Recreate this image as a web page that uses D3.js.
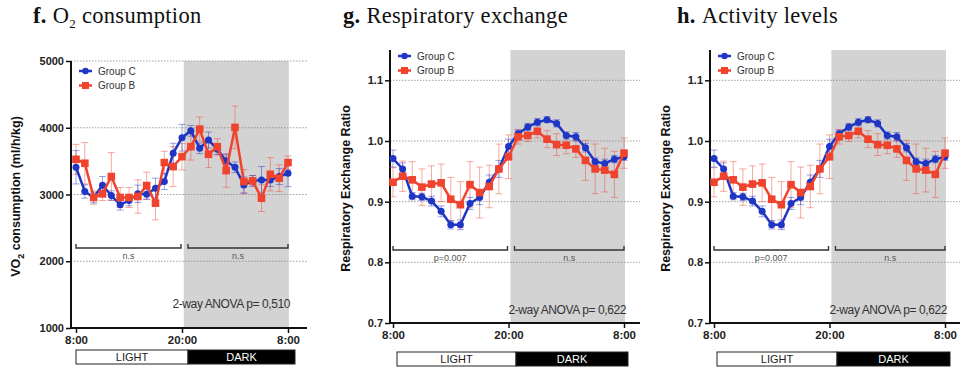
<!DOCTYPE html>
<html>
<head>
<meta charset="utf-8">
<script src="https://cdn.jsdelivr.net/npm/d3@7"></script>
<style>
  body { margin: 0; background: #fff; }
  text { font-family: "Liberation Sans", Arial, sans-serif; }
</style>
</head>
<body>
<svg id="chart" width="960" height="367"></svg>
<script>
// hours after 8:00
var hours = d3.range(0, 25);
var xTickHours = [0, 12, 24];
var xTickLabels = ['8:00', '20:00', '8:00'];

// f. O2 consumption
var o2GroupC = [3408, 3045, 2955, 3140, 2985, 2846, 2910, 3010, 3005, 3095, 3194, 3617, 3851, 3955, 3692, 3816, 3677, 3502, 3408, 3144, 3204, 3219, 3219, 3269, 3318];
var o2GroupCErr = [250, 100, 80, 130, 70, 80, 80, 130, 80, 150, 120, 150, 200, 80, 80, 120, 80, 100, 80, 120, 80, 200, 100, 120, 200];
var o2GroupB = [3527, 3468, 2955, 3010, 3269, 2955, 2955, 2970, 3134, 2870, 3478, 3418, 3567, 3716, 3980, 3602, 3716, 3358, 4005, 3194, 3204, 2945, 3303, 3244, 3478];
var o2GroupBErr = [224, 310, 100, 100, 358, 150, 150, 250, 200, 250, 170, 300, 200, 200, 180, 200, 120, 250, 320, 180, 80, 200, 250, 200, 100];
var o2Ticks = [1000, 2000, 3000, 4000, 5000];

// g. / h. respiratory exchange ratio
var rerGroupC = [0.971, 0.954, 0.909, 0.908, 0.901, 0.884, 0.862, 0.862, 0.897, 0.907, 0.932, 0.954, 0.991, 1.012, 1.023, 1.031, 1.035, 1.029, 1.009, 1.007, 0.989, 0.966, 0.963, 0.970, 0.974];
var rerGroupCErr = [0.014, 0.010, 0.006, 0.006, 0.008, 0.009, 0.007, 0.008, 0.010, 0.012, 0.012, 0.014, 0.012, 0.006, 0.006, 0.006, 0.005, 0.006, 0.006, 0.007, 0.007, 0.006, 0.007, 0.006, 0.006];
var rerGroupB = [0.932, 0.942, 0.936, 0.924, 0.929, 0.931, 0.904, 0.895, 0.928, 0.915, 0.925, 0.954, 0.974, 1.007, 1.009, 1.016, 1.003, 0.994, 0.993, 0.987, 0.968, 0.954, 0.952, 0.945, 0.980];
var rerGroupBErr = [0.024, 0.025, 0.030, 0.030, 0.030, 0.031, 0.036, 0.038, 0.038, 0.042, 0.035, 0.041, 0.036, 0.012, 0.010, 0.011, 0.014, 0.018, 0.014, 0.014, 0.033, 0.041, 0.036, 0.038, 0.025];
var rerTicks = [0.7, 0.8, 0.9, 1.0, 1.1];

var blue = '#1f35c4';
var red = '#f0432e';

var svg = d3.select('#chart');

var panels = [
  {letter: 'f.', title: 'O', sub: '2', titleRest: ' consumption', titleX: 33,
   axisX: 71, xRange: [76, 288], right: 307, yDomain: [1000, 5000], yRange: [328, 61], top: 61,
   ticks: o2Ticks, fmt: d3.format('d'), c: o2GroupC, cErr: o2GroupCErr, b: o2GroupB, bErr: o2GroupBErr,
   yLabel: 'VO2', labelX: 20, legendY: 71, lightP: 'n.s', darkP: 'n.s', bracketY: 248,
   anova: '2-way ANOVA p= 0,510', anovaY: 308, barX: [76, 188, 295], barY: 350},
  {letter: 'g.', title: 'Respiratory exchange', titleX: 343,
   axisX: 390, xRange: [393, 624], right: 640, yDomain: [0.7, 1.15], yRange: [323, 50], top: 50,
   ticks: rerTicks, fmt: d3.format('.1f'), c: rerGroupC, cErr: rerGroupCErr, b: rerGroupB, bErr: rerGroupBErr,
   yLabel: 'Respiratory Exchange Ratio', labelX: 350, legendY: 56, lightP: 'p=0.007', darkP: 'n.s', bracketY: 250,
   anova: '2-way ANOVA p= 0,622', anovaY: 314, barX: [397, 516, 628], barY: 352},
  {letter: 'h.', title: 'Activity levels', titleX: 677,
   axisX: 710, xRange: [714, 945], right: 960, yDomain: [0.7, 1.15], yRange: [323, 50], top: 50,
   ticks: rerTicks, fmt: d3.format('.1f'), c: rerGroupC, cErr: rerGroupCErr, b: rerGroupB, bErr: rerGroupBErr,
   yLabel: 'Respiratory Exchange Ratio', labelX: 670, legendY: 56, lightP: 'p=0.007', darkP: 'n.s', bracketY: 250,
   anova: '2-way ANOVA p= 0,622', anovaY: 314, barX: [717, 837, 950], barY: 352}
];

panels.forEach(function(p) {
  var x = d3.scaleLinear().domain([0, 24]).range(p.xRange);
  var y = d3.scaleLinear().domain(p.yDomain).range(p.yRange);
  var base = p.yRange[0];
  var g = svg.append('g');

  // title
  var t = g.append('text').attr('x', p.titleX).attr('y', 23)
    .style('font-family', '"Liberation Serif", "DejaVu Serif", serif').style('font-size', '22.5px')
    .style('letter-spacing', '0.3px').attr('fill', '#111');
  t.append('tspan').style('font-weight', 'bold').text(p.letter + ' ');
  t.append('tspan').text(p.title);
  if (p.sub) {
    t.append('tspan').attr('dy', 5).style('font-size', '13px').text(p.sub);
    t.append('tspan').attr('dy', -5).text(p.titleRest);
  }

  // dark shading
  g.append('rect').attr('x', x(12.2)).attr('y', p.top)
    .attr('width', x(24.1) - x(12.2)).attr('height', base - p.top).attr('fill', '#d3d3d3');

  // grid lines
  g.selectAll('.grid').data(p.ticks.slice(1)).enter().append('line')
    .attr('x1', p.axisX).attr('x2', p.right)
    .attr('y1', function(d) { return y(d); }).attr('y2', function(d) { return y(d); })
    .attr('stroke', '#888').attr('stroke-width', 0.8).attr('stroke-dasharray', '1.5,1.5');

  // y axis
  var yAxis = d3.axisLeft(y).tickValues(p.ticks).tickFormat(p.fmt).tickSize(5).tickPadding(2);
  var ya = g.append('g').attr('transform', 'translate(' + p.axisX + ',0)').call(yAxis);
  ya.select('.domain').attr('d', 'M0,' + p.top + 'V' + base).attr('stroke', '#111').attr('stroke-width', 2);
  ya.selectAll('.tick line').attr('stroke', '#111').attr('stroke-width', 1.5);
  ya.selectAll('.tick text').style('font-size', '11px').style('font-weight', 'bold')
    .style('font-family', '"Liberation Sans", Arial, sans-serif').attr('fill', '#222');

  // x axis
  var xAxis = d3.axisBottom(x).tickValues(xTickHours)
    .tickFormat(function(d, i) { return xTickLabels[i]; }).tickSize(5).tickPadding(3);
  var xa = g.append('g').attr('transform', 'translate(0,' + base + ')').call(xAxis);
  xa.select('.domain').attr('d', 'M' + p.axisX + ',0H' + p.right).attr('stroke', '#111').attr('stroke-width', 2);
  xa.selectAll('.tick line').attr('stroke', '#111').attr('stroke-width', 1.5);
  xa.selectAll('.tick text').style('font-size', '11.5px').style('font-weight', 'bold')
    .style('font-family', '"Liberation Sans", Arial, sans-serif').attr('fill', '#222');

  // y label
  var lab = g.append('text').attr('transform', 'translate(' + p.labelX + ',' + ((p.top + base) / 2 + 2) + ') rotate(-90)')
    .attr('text-anchor', 'middle').style('font-size', '12.5px').style('font-weight', 'bold').attr('fill', '#111');
  if (p.yLabel === 'VO2') {
    lab.append('tspan').text('VO');
    lab.append('tspan').attr('dy', 4).style('font-size', '9px').text('2');
    lab.append('tspan').attr('dy', -4).text(' consumption (ml/h/kg)');
  } else {
    lab.text(p.yLabel);
  }

  // brackets
  var brackets = [[x(0), x(12) - 1, p.lightP], [x(12) + 6, x(24), p.darkP]];
  brackets.forEach(function(b) {
    g.append('path').attr('d', 'M' + b[0] + ',' + (p.bracketY - 4) + 'V' + p.bracketY + 'H' + b[1] + 'V' + (p.bracketY - 4))
      .attr('fill', 'none').attr('stroke', '#333').attr('stroke-width', 1.4);
    g.append('text').attr('x', (b[0] + b[1]) / 2).attr('y', p.bracketY + 11).attr('text-anchor', 'middle')
      .style('font-size', '9px').attr('fill', '#555').text(b[2]);
  });

  // anova
  g.append('text').attr('x', x(24) + 2).attr('y', p.anovaY).attr('text-anchor', 'end')
    .style('font-size', '12px').style('letter-spacing', '-0.4px').attr('fill', '#333').text(p.anova);

  // light / dark bar
  g.append('rect').attr('x', p.barX[0]).attr('y', p.barY).attr('width', p.barX[1] - p.barX[0]).attr('height', 14)
    .attr('fill', '#fff').attr('stroke', '#222').attr('stroke-width', 1);
  g.append('rect').attr('x', p.barX[1]).attr('y', p.barY).attr('width', p.barX[2] - p.barX[1]).attr('height', 14)
    .attr('fill', '#000').attr('stroke', '#222').attr('stroke-width', 1);
  g.append('text').attr('x', (p.barX[0] + p.barX[1]) / 2).attr('y', p.barY + 11).attr('text-anchor', 'middle')
    .style('font-size', '11px').attr('fill', '#222').text('LIGHT');
  g.append('text').attr('x', (p.barX[1] + p.barX[2]) / 2).attr('y', p.barY + 11).attr('text-anchor', 'middle')
    .style('font-size', '11px').attr('fill', '#fff').text('DARK');

  // series
  var series = [
    {vals: p.b, err: p.bErr, color: red, shape: 'square'},
    {vals: p.c, err: p.cErr, color: blue, shape: 'circle'}
  ];
  // error bars first
  series.forEach(function(s) {
    var eb = g.append('g').attr('stroke', s.color).attr('stroke-opacity', 0.45).attr('stroke-width', 1);
    hours.forEach(function(h, i) {
      var cx = x(h), y1 = y(s.vals[i] + s.err[i]), y2 = y(s.vals[i] - s.err[i]);
      eb.append('line').attr('x1', cx).attr('x2', cx).attr('y1', y1).attr('y2', y2);
      eb.append('line').attr('x1', cx - 3.5).attr('x2', cx + 3.5).attr('y1', y1).attr('y2', y1);
      eb.append('line').attr('x1', cx - 3.5).attr('x2', cx + 3.5).attr('y1', y2).attr('y2', y2);
    });
  });
  [series[1], series[0]].forEach(function(s) {
    var line = d3.line().x(function(d, i) { return x(hours[i]); }).y(function(d) { return y(d); });
    g.append('path').datum(s.vals).attr('d', line).attr('fill', 'none')
      .attr('stroke', s.color).attr('stroke-width', 2.5);
    if (s.shape === 'circle') {
      g.selectAll(null).data(s.vals).enter().append('circle')
        .attr('cx', function(d, i) { return x(hours[i]); }).attr('cy', function(d) { return y(d); })
        .attr('r', 3.5).attr('fill', s.color);
    } else {
      g.selectAll(null).data(s.vals).enter().append('rect')
        .attr('x', function(d, i) { return x(hours[i]) - 3.8; }).attr('y', function(d) { return y(d) - 3.8; })
        .attr('width', 7.6).attr('height', 7.6).attr('fill', s.color);
    }
  });

  // legend
  var lx = p.axisX + 8;
  [['Group C', blue, 'circle'], ['Group B', red, 'square']].forEach(function(l, i) {
    var ly = p.legendY + i * 14.5;
    g.append('line').attr('x1', lx).attr('x2', lx + 13).attr('y1', ly).attr('y2', ly)
      .attr('stroke', l[1]).attr('stroke-width', 2.5);
    if (l[2] === 'circle') {
      g.append('circle').attr('cx', lx + 6.5).attr('cy', ly).attr('r', 3.2).attr('fill', l[1]);
    } else {
      g.append('rect').attr('x', lx + 3).attr('y', ly - 3.5).attr('width', 7).attr('height', 7).attr('fill', l[1]);
    }
    g.append('text').attr('x', lx + 19).attr('y', ly + 3.5).style('font-size', '10px')
      .attr('fill', '#333').text(l[0]);
  });
});
</script>
</body>
</html>
